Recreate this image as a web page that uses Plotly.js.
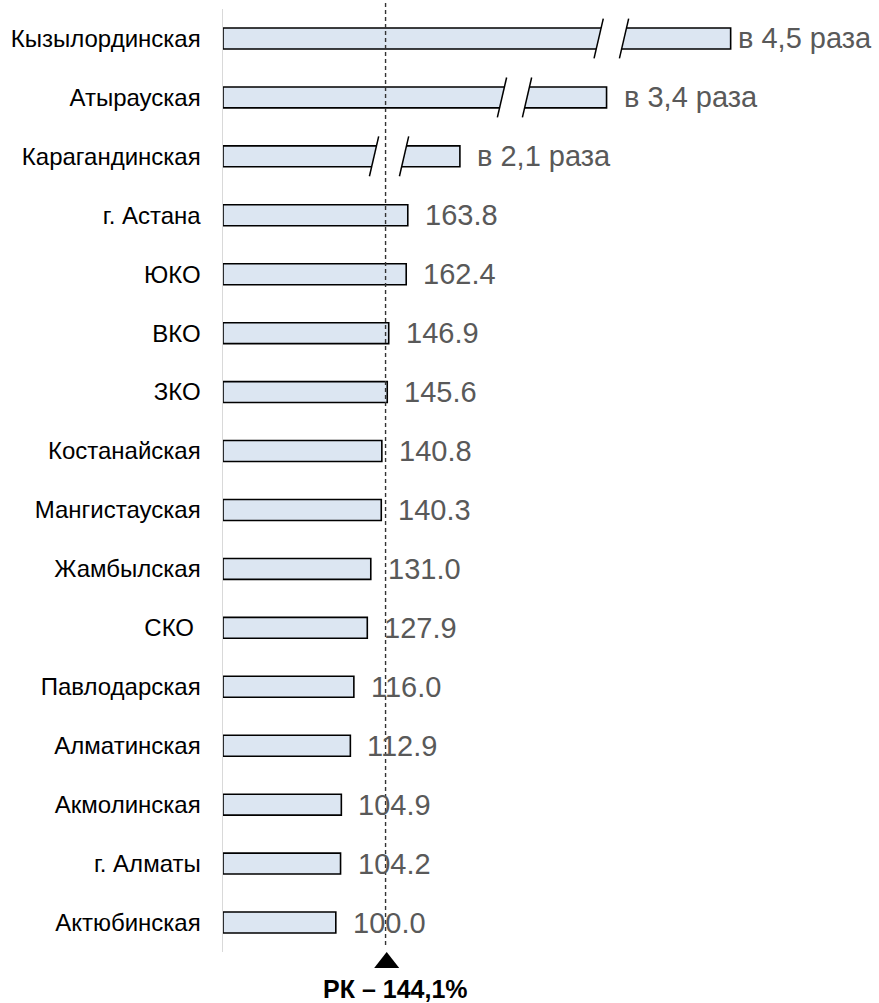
<!DOCTYPE html>
<html>
<head>
<meta charset="utf-8">
<script src="https://cdn.plot.ly/plotly-3.0.1.min.js"></script>
<style>html,body{margin:0;padding:0;background:#fff;}#chart{width:879px;height:1003px;}</style>
</head>
<body>
<div id="chart"></div>
<script>
// ---- data ----
const regions = ['Кызылординская','Атырауская','Карагандинская','г. Астана','ЮКО','ВКО','ЗКО',
  'Костанайская','Мангистауская','Жамбылская','СКО\u00a0','Павлодарская','Алматинская',
  'Акмолинская','г. Алматы','Актюбинская'];
const values = [450, 340, 210, 163.8, 162.4, 146.9, 145.6, 140.8, 140.3, 131.0, 127.9, 116.0, 112.9, 104.9, 104.2, 100.0];
const valueLabels = ['в 4,5 раза','в 3,4 раза','в 2,1 раза','163.8','162.4','146.9','145.6','140.8',
  '140.3','131.0','127.9','116.0','112.9','104.9','104.2','100.0'];
const rkValue = 144.1;
const rkLabel = 'РК – 144,1%';

// ---- drawing ----
const FONT = 'Liberation Sans, Arial, sans-serif';
const n = regions.length;
const idx = regions.map((_, i) => i);

const trace = {
  type: 'bar', orientation: 'h',
  x: values, y: idx,
  width: 0.355,
  marker: {color: '#dce6f2', line: {color: '#000000', width: 1.6}},
  hoverinfo: 'skip'
};

const annotations = values.map((v, i) => ({
  x: v, y: i, xref: 'x', yref: 'y',
  text: valueLabels[i], showarrow: false,
  xanchor: 'left', yanchor: 'middle',
  xshift: i === 0 ? 5 : 15,
  font: {family: FONT, size: 29, color: '#595959'}
}));
annotations.push({
  x: rkValue, xref: 'x', y: -0.039, yref: 'paper',
  text: '<b>' + rkLabel + '</b>', showarrow: false,
  xanchor: 'center', yanchor: 'middle', xshift: 10,
  font: {family: FONT, size: 25, color: '#000000'}
});

// axis break marks (drawing decoration for the long bars)
const breakPairs = [[0, 333, 355.5], [1, 247.3, 269.5], [2, 133.9, 160.5]];
const shapes = [];
const mdx = 4.1, mdy = 0.338, hh = 0.2, gdx = mdx * hh / mdy;
breakPairs.forEach(([i, a, b]) => {
  shapes.push({type: 'path', xref: 'x', yref: 'y', layer: 'above',
    path: `M${a-gdx},${i+hh} L${a+gdx},${i-hh} L${b+gdx},${i-hh} L${b-gdx},${i+hh} Z`,
    fillcolor: '#ffffff', line: {width: 0}});
  [a, b].forEach(m => shapes.push({type: 'line', xref: 'x', yref: 'y', layer: 'above',
    x0: m - mdx, y0: i + mdy, x1: m + mdx, y1: i - mdy,
    line: {color: '#000000', width: 1.5}}));
});
// RK reference line
shapes.push({type: 'line', xref: 'x', yref: 'paper', layer: 'above',
  x0: rkValue, x1: rkValue, y0: 0.0074, y1: 1.0095,
  line: {color: '#333333', width: 1.4, dash: '4px,3px'}});
// triangle marker
shapes.push({type: 'path', xref: 'x', yref: 'paper', layer: 'above',
  path: `M${rkValue+1},0 L${rkValue+12.1},-0.017 L${rkValue-10.1},-0.017 Z`,
  fillcolor: '#000000', line: {width: 0}});

const layout = {
  width: 879, height: 1003,
  margin: {l: 223, r: 0, t: 9, b: 51},
  paper_bgcolor: '#ffffff', plot_bgcolor: '#ffffff',
  showlegend: false,
  xaxis: {range: [0, 581.5], visible: false, fixedrange: true},
  yaxis: {
    range: [n - 0.5, -0.5], tickmode: 'array', tickvals: idx, ticktext: regions,
    showline: true, linecolor: '#d9d9d9', linewidth: 1.5,
    showgrid: false, zeroline: false, ticks: '', ticklabelstandoff: 16,
    tickfont: {family: FONT, size: 24, color: '#000000'}, fixedrange: true
  },
  annotations: annotations,
  shapes: shapes
};

Plotly.newPlot('chart', [trace], layout, {displayModeBar: false, staticPlot: true});
</script>
</body>
</html>
